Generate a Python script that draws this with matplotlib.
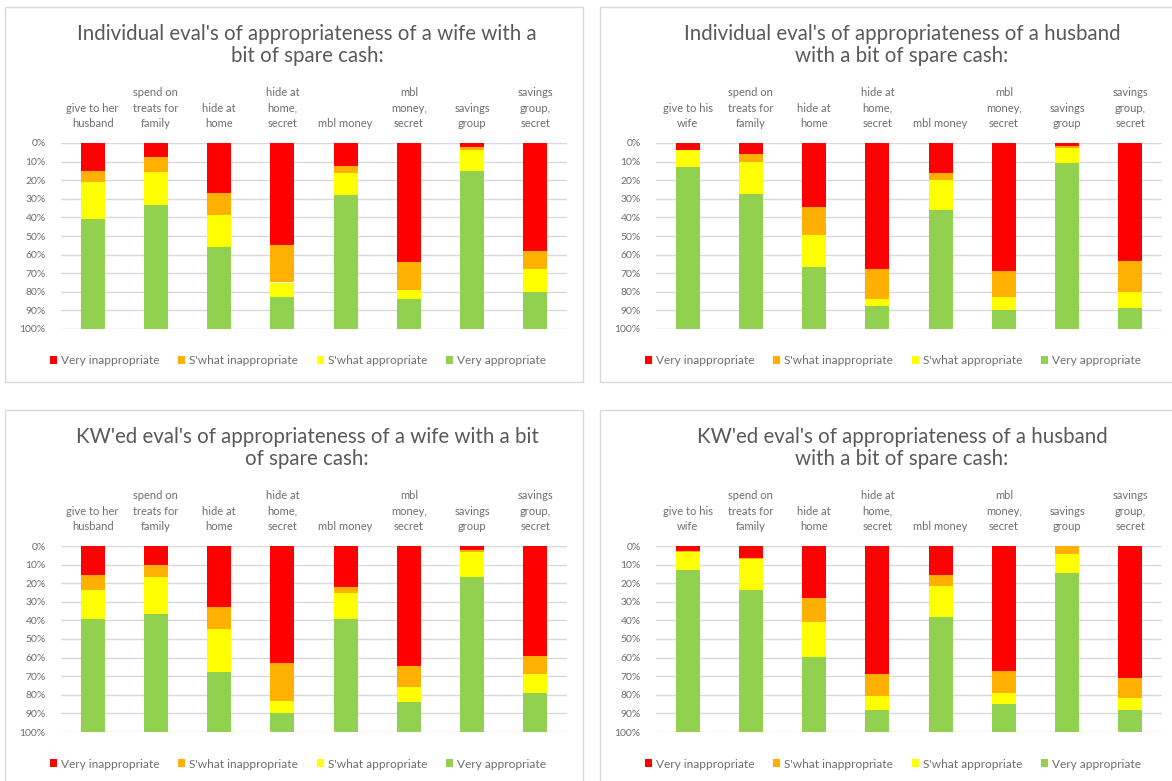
import matplotlib
matplotlib.use("Agg")
import matplotlib.pyplot as plt
from matplotlib.patches import Rectangle
import numpy as np

plt.rcParams['font.family'] = ['Lato', 'DejaVu Sans']

series_names = ["Very inappropriate", "S'what inappropriate", "S'what appropriate", "Very appropriate"]
colors = ["#FF0000", "#FFB000", "#FFFF00", "#92D050"]

cats_wife = ["give to her\nhusband", "spend on\ntreats for\nfamily", "hide at\nhome", "hide at\nhome,\nsecret",
             "mbl money", "mbl\nmoney,\nsecret", "savings\ngroup", "savings\ngroup,\nsecret"]
cats_husband = ["give to his\nwife", "spend on\ntreats for\nfamily", "hide at\nhome", "hide at\nhome,\nsecret",
                "mbl money", "mbl\nmoney,\nsecret", "savings\ngroup", "savings\ngroup,\nsecret"]

titles = ["Individual eval's of appropriateness of a wife with a\nbit of spare cash:",
          "Individual eval's of appropriateness of a husband\nwith a bit of spare cash:",
          "KW'ed eval's of appropriateness of a wife with a bit\nof spare cash:",
          "KW'ed eval's of appropriateness of a husband\nwith a bit of spare cash:"]

# percentages: very inappropriate, s'what inappropriate, s'what appropriate, very appropriate
ind_wife_vi = [15, 7.5, 27, 55, 12.6, 64, 2, 58]
ind_wife_si = [6, 8, 11.5, 20, 3.4, 15, 2, 9.5]
ind_wife_sa = [20, 18, 17.5, 8, 12, 5, 11, 12.5]
ind_wife_va = [59, 66.5, 44, 17, 72, 16, 85, 20]

ind_husb_vi = [3.5, 6, 34.5, 68, 16, 69, 1.8, 63.5]
ind_husb_si = [0.5, 4, 15, 16, 4, 14, 0.7, 16.5]
ind_husb_sa = [9, 17.5, 17, 3.5, 16, 7, 8.5, 8.5]
ind_husb_va = [87, 72.5, 33.5, 12.5, 64, 10, 89, 11.5]

kw_wife_vi = [15.5, 10, 33, 63, 22, 64.5, 2, 59]
kw_wife_si = [8, 6.5, 11.5, 20.5, 3.5, 11.5, 1, 10]
kw_wife_sa = [16, 20, 23.5, 6.5, 14, 8, 13.5, 10]
kw_wife_va = [60.5, 63.5, 32, 10, 60.5, 16, 83.5, 21]

kw_husb_vi = [2.7, 6.4, 28, 69, 15.4, 67.3, 0, 70.7]
kw_husb_si = [0.5, 0.5, 12.7, 11.5, 6.2, 11.6, 4.5, 11]
kw_husb_sa = [9.7, 17, 19, 7.5, 16.6, 6.3, 10, 6.4]
kw_husb_va = [87.1, 76.1, 40.3, 12, 61.8, 14.8, 85.5, 11.9]

panels = [
    (cats_wife, [ind_wife_vi, ind_wife_si, ind_wife_sa, ind_wife_va]),
    (cats_husband, [ind_husb_vi, ind_husb_si, ind_husb_sa, ind_husb_va]),
    (cats_wife, [kw_wife_vi, kw_wife_si, kw_wife_sa, kw_wife_va]),
    (cats_husband, [kw_husb_vi, kw_husb_si, kw_husb_sa, kw_husb_va]),
]

W, H = 1172, 781
fig = plt.figure(figsize=(W / 100, H / 100), dpi=100)
fig.patch.set_facecolor("white")

gray = "#595959"
lgray = "#6E6E6E"
offsets = [(0, 0), (595, 0), (0, 403), (595, 403)]

def fx(x):
    return x / W

def fy(y):
    return 1 - y / H

for i, ((cats, vals), title, (dx, dy)) in enumerate(zip(panels, titles, offsets)):
    # frame
    fx0, fy0 = 5 + dx, 7 + dy
    fw, fh = 578, 375
    fig.patches.append(Rectangle((fx(fx0), fy(fy0 + fh)), fw / W, fh / H, transform=fig.transFigure,
                                 facecolor="none", edgecolor="#D9D9D9", linewidth=1.0))
    # axes
    ax_l, ax_r = 61 + dx, 567 + dx
    ax_t, ax_b = 143 + dy, 329 + dy
    ax = fig.add_axes([fx(ax_l), fy(ax_b), (ax_r - ax_l) / W, (ax_b - ax_t) / H])
    x = np.arange(len(cats))
    bottom = np.zeros(len(cats))
    handles = []
    for name, v, c in zip(series_names, vals, colors):
        v = np.array(v, dtype=float)
        b = ax.bar(x, v, 0.38, bottom=bottom, color=c, label=name, linewidth=0, zorder=3)
        bottom += v
        handles.append(b)
    ax.set_ylim(100, 0)
    ax.set_xlim(-0.5, len(cats) - 0.5)
    ax.set_yticks(np.arange(0, 101, 10))
    ax.set_yticklabels([f"{t}%" for t in range(0, 101, 10)], fontsize=7.5, color=lgray)
    ax.xaxis.tick_top()
    ax.set_xticks(x)
    ax.set_xticklabels(cats, fontsize=8, color=lgray, linespacing=1.5)
    ax.tick_params(axis="both", length=0)
    ax.tick_params(axis="y", pad=11)
    ax.tick_params(axis="x", pad=10)
    ax.grid(axis="y", color="#D9D9D9", linewidth=1.0, zorder=0)
    for s in ax.spines.values():
        s.set_visible(False)
    # title
    fig.text(fx(307 + dx), fy(45 + dy), title, ha="center", va="center", fontsize=14.8,
             color=gray, linespacing=1.15)
    # legend
    leg = fig.legend(handles=handles, labels=series_names, loc="center",
                     bbox_to_anchor=(fx(298 + dx), fy(361 + dy)), ncol=4, frameon=False,
                     fontsize=8.6, handlelength=0.6, handleheight=0.6, handletextpad=0.3,
                     columnspacing=1.6, labelcolor=lgray)

fig.savefig("out.png", dpi=100, facecolor="white")
